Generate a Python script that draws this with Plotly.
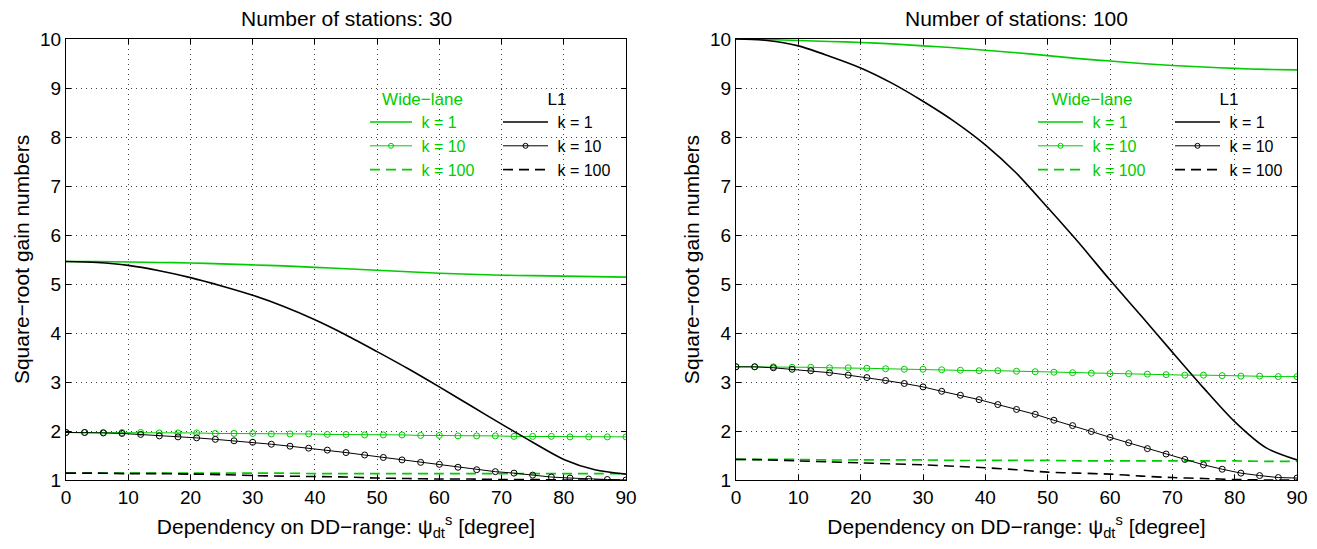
import plotly.graph_objects as go

# ---------------- data ----------------
x5 = [0, 5, 10, 15, 20, 25, 30, 35, 40, 45, 50, 55, 60, 65, 70, 75, 80, 85, 90]
x3 = [0, 3, 6, 9, 12, 15, 18, 21, 24, 27, 30, 33, 36, 39, 42, 45, 48, 51, 54, 57,
      60, 63, 66, 69, 72, 75, 78, 81, 84, 87, 90]

# Number of stations: 30
wl_k1_n30 = [5.46, 5.46, 5.45, 5.44, 5.43, 5.41, 5.39, 5.37, 5.34, 5.31, 5.28, 5.25,
             5.22, 5.20, 5.18, 5.17, 5.16, 5.15, 5.14]
l1_k1_n30 = [5.46, 5.44, 5.38, 5.27, 5.13, 4.96, 4.77, 4.54, 4.27, 3.96, 3.62, 3.27,
             2.90, 2.52, 2.14, 1.77, 1.42, 1.21, 1.12]
wl_k10_n30 = [1.97, 1.97, 1.97, 1.97, 1.97, 1.96, 1.96, 1.96, 1.95, 1.95, 1.95, 1.94,
              1.94, 1.94, 1.93, 1.93, 1.92, 1.92, 1.92, 1.91, 1.91, 1.90, 1.90, 1.90,
              1.89, 1.89, 1.89, 1.88, 1.88, 1.88, 1.88]
l1_k10_n30 = [1.97, 1.97, 1.96, 1.95, 1.93, 1.90, 1.88, 1.86, 1.83, 1.80, 1.77, 1.73,
              1.69, 1.65, 1.61, 1.56, 1.51, 1.46, 1.41, 1.36, 1.32, 1.26, 1.21, 1.17,
              1.14, 1.10, 1.06, 1.04, 1.02, 1.01, 1.00]
wl_k100_n30 = [1.14, 1.14, 1.14, 1.14, 1.14, 1.14, 1.14, 1.14, 1.13, 1.13, 1.13, 1.13,
               1.13, 1.13, 1.13, 1.13, 1.13, 1.13, 1.13]
l1_k100_n30 = [1.14, 1.14, 1.13, 1.13, 1.12, 1.11, 1.09, 1.08, 1.07, 1.06, 1.04, 1.03,
               1.02, 1.02, 1.01, 1.01, 1.00, 1.00, 1.00]

# Number of stations: 100
wl_k1_n100 = [10.00, 9.99, 9.97, 9.95, 9.93, 9.90, 9.86, 9.82, 9.77, 9.72, 9.66, 9.60,
              9.55, 9.50, 9.46, 9.43, 9.40, 9.38, 9.37]
l1_k1_n100 = [10.00, 9.97, 9.86, 9.65, 9.41, 9.10, 8.73, 8.32, 7.84, 7.26, 6.56, 5.84,
              5.08, 4.35, 3.61, 2.88, 2.19, 1.66, 1.41]
wl_k10_n100 = [3.31, 3.31, 3.31, 3.30, 3.30, 3.29, 3.29, 3.28, 3.27, 3.26, 3.26, 3.25,
               3.24, 3.23, 3.23, 3.22, 3.21, 3.20, 3.19, 3.18, 3.17, 3.17, 3.16, 3.15,
               3.14, 3.14, 3.13, 3.12, 3.12, 3.11, 3.11]
l1_k10_n100 = [3.31, 3.31, 3.29, 3.26, 3.23, 3.19, 3.14, 3.09, 3.03, 2.97, 2.90, 2.81,
               2.73, 2.64, 2.54, 2.44, 2.34, 2.22, 2.11, 1.99, 1.87, 1.76, 1.64, 1.53,
               1.42, 1.31, 1.22, 1.14, 1.09, 1.05, 1.04]
wl_k100_n100 = [1.42, 1.42, 1.42, 1.41, 1.41, 1.41, 1.41, 1.40, 1.40, 1.40, 1.40, 1.39,
                1.39, 1.39, 1.39, 1.39, 1.39, 1.38, 1.38]
l1_k100_n100 = [1.42, 1.41, 1.39, 1.37, 1.35, 1.33, 1.31, 1.28, 1.25, 1.21, 1.16, 1.14,
                1.12, 1.08, 1.05, 1.03, 1.01, 1.00, 1.00]

x_ticks = [0, 10, 20, 30, 40, 50, 60, 70, 80, 90]
y_ticks = [1, 2, 3, 4, 5, 6, 7, 8, 9, 10]
titles = ["Number of stations: 30", "Number of stations: 100"]
k_labels = ["k = 1", "k = 10", "k = 100"]

# ---------------- style ----------------
FONT = "Liberation Sans, Arial, Helvetica, sans-serif"
GREEN = "rgb(0,204,0)"
BLACK = "black"
DASH = "10px,6px"
NBSP = "\u00a0"

# The page body has an 8px margin: positions below are given in screen px
OFF = 8


def fx(screen_px):
    return screen_px - OFF


fig = go.Figure()

panels = [
    ("x", "y", "legend", "legend2",
     [wl_k1_n30, wl_k10_n30, wl_k100_n30], [l1_k1_n30, l1_k10_n30, l1_k100_n30]),
    ("x2", "y2", "legend3", "legend4",
     [wl_k1_n100, wl_k10_n100, wl_k100_n100], [l1_k1_n100, l1_k10_n100, l1_k100_n100]),
]

for xa, ya, lg_wl, lg_l1, wl, l1 in panels:
    for color, series, lg in ((GREEN, wl, lg_wl), (BLACK, l1, lg_l1)):
        line_solid = dict(color=color, width=1.6)
        line_dash = dict(color=color, width=1.6, dash=DASH)
        marker10 = dict(symbol="circle-open", size=6, color=color,
                        line=dict(width=1, color=color))
        # data curves (smooth)
        fig.add_trace(go.Scatter(x=x5, y=series[0], mode="lines", showlegend=False,
                                 line=dict(line_solid, shape="spline", smoothing=0.8),
                                 xaxis=xa, yaxis=ya, hoverinfo="skip"))
        fig.add_trace(go.Scatter(x=x3, y=series[1], mode="lines+markers", showlegend=False,
                                 line=dict(color=color, width=1), marker=marker10,
                                 xaxis=xa, yaxis=ya, hoverinfo="skip"))
        fig.add_trace(go.Scatter(x=x5, y=series[2], mode="lines", showlegend=False,
                                 line=dict(line_dash, shape="spline", smoothing=0.8),
                                 xaxis=xa, yaxis=ya, hoverinfo="skip"))
        # legend entries
        fig.add_trace(go.Scatter(x=[None], y=[None], mode="lines", name=NBSP + k_labels[0],
                                 line=line_solid, xaxis=xa, yaxis=ya, legend=lg))
        fig.add_trace(go.Scatter(x=[None], y=[None], mode="lines+markers",
                                 name=NBSP + k_labels[1],
                                 line=dict(color=color, width=1),
                                 marker=dict(marker10, size=5),
                                 xaxis=xa, yaxis=ya, legend=lg))
        fig.add_trace(go.Scatter(x=[None], y=[None], mode="lines", name=NBSP + k_labels[2],
                                 line=line_dash, xaxis=xa, yaxis=ya, legend=lg))

axis_common = dict(
    showline=True, linecolor="black", linewidth=1, mirror="ticks",
    ticks="inside", ticklen=5, tickcolor="black", tickwidth=1,
    showgrid=True, gridcolor="rgba(0,0,0,0.75)", gridwidth=1, griddash="1px,4px",
    zeroline=False, automargin=False,
    tickfont=dict(family=FONT, size=19, color="black"),
)

xtitle = "Dependency on DD\u2212range: \u03c8<sub>dt</sub><sup>s</sup> [degree]"
ytitle = "Square\u2212root gain numbers"

FIG_W, FIG_H = 1317, 549
L, R = fx(66), fx(1297)
T, B = fx(39), fx(480)
W = R - L
H = B - T
dom1 = [0, (fx(626) - L) / W]
dom2 = [(fx(736) - L) / W, 1]

fig.update_layout(
    width=FIG_W, height=FIG_H,
    margin=dict(l=L, r=FIG_W - R, t=T, b=FIG_H - B),
    paper_bgcolor="white", plot_bgcolor="white",
    font=dict(family=FONT, color="black"),
    xaxis=dict(domain=dom1, range=[0, 90], tickvals=x_ticks, anchor="y",
               title=dict(text=xtitle, font=dict(size=21), standoff=12), **axis_common),
    yaxis=dict(domain=[0, 1], range=[1, 10], tickvals=y_ticks, anchor="x",
               title=dict(text=ytitle, font=dict(size=21), standoff=4), **axis_common),
    xaxis2=dict(domain=dom2, range=[0, 90], tickvals=x_ticks, anchor="y2",
                title=dict(text=xtitle, font=dict(size=21), standoff=12), **axis_common),
    yaxis2=dict(domain=[0, 1], range=[1, 10], tickvals=y_ticks, anchor="x2",
                title=dict(text=ytitle, font=dict(size=21), standoff=4), **axis_common),
)


def px_x(screen_px):
    return (fx(screen_px) - L) / W


def px_y(screen_py):
    return (B - fx(screen_py)) / H


def legend_cfg(xp, yp, header, color, iw):
    return dict(
        x=px_x(xp), y=px_y(yp), xref="paper", yref="paper",
        xanchor="left", yanchor="top",
        bgcolor="rgba(0,0,0,0)", borderwidth=0,
        font=dict(family=FONT, size=16, color=color),
        title=dict(text=header, side="top center",
                   font=dict(family=FONT, size=17, color=color)),
        itemwidth=iw, tracegroupgap=0, itemclick=False, itemdoubleclick=False,
    )


fig.update_layout(
    legend=legend_cfg(365, 83, "Wide\u2212lane", GREEN, 42),
    legend2=legend_cfg(498, 83, "L1", BLACK, 45),
    legend3=legend_cfg(1033, 83, "Wide\u2212lane", GREEN, 45),
    legend4=legend_cfg(1170, 83, "L1", BLACK, 45),
    showlegend=True,
)

# white legend backgrounds that hide the grid (drawn under the traces)
for x0, x1, y0, y1 in ((366, 625, 100, 180), (1037, 1296, 95, 180)):
    fig.add_shape(type="rect", xref="paper", yref="paper",
                  x0=px_x(x0), x1=px_x(x1), y0=px_y(y1), y1=px_y(y0),
                  fillcolor="white", line=dict(width=0), layer="between")

for dom, t in ((dom1, titles[0]), (dom2, titles[1])):
    fig.add_annotation(text=t, x=(dom[0] + dom[1]) / 2, y=1, xref="paper", yref="paper",
                       xanchor="center", yanchor="bottom", yshift=7, showarrow=False,
                       font=dict(family=FONT, size=21, color="black"))

fig.write_html("out.html")
